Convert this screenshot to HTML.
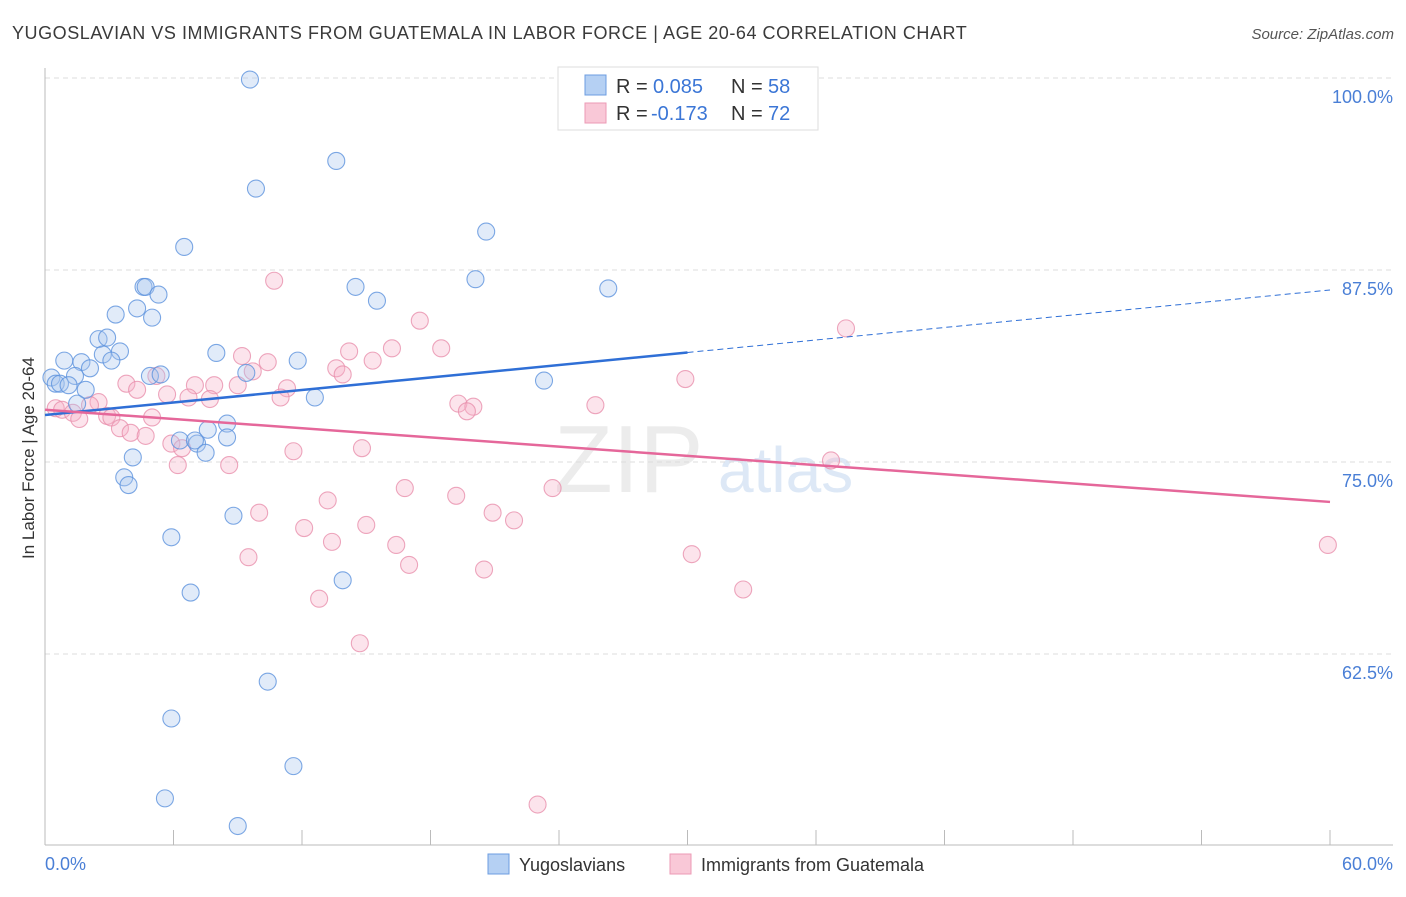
<!DOCTYPE html>
<html><head><meta charset="utf-8"><style>
body{margin:0;background:#fff;font-family:"Liberation Sans",sans-serif;}
svg text{font-family:"Liberation Sans",sans-serif;}
</style></head><body>
<svg id="c" width="1406" height="892" xmlns="http://www.w3.org/2000/svg">
<text x="12" y="39" font-size="18" fill="#3a3a3a" letter-spacing="0.55">YUGOSLAVIAN VS IMMIGRANTS FROM GUATEMALA IN LABOR FORCE | AGE 20-64 CORRELATION CHART</text>
<text x="1394" y="39" font-size="15" fill="#555" font-style="italic" text-anchor="end">Source: ZipAtlas.com</text>
<text x="554" y="492" font-size="96" fill="#ececec" font-family="Liberation Serif">ZIP</text>
<text x="718" y="492" font-size="64" fill="#dde8f6">atlas</text>
<g id="grid"></g><g id="marks"></g>
<text transform="translate(34,458) rotate(-90)" font-size="17" fill="#333" text-anchor="middle">In Labor Force | Age 20-64</text>
<text x="45" y="870" font-size="18" fill="#4a7fd6">0.0%</text>
<text x="1393" y="870" font-size="18" fill="#4a7fd6" text-anchor="end">60.0%</text>
<g>
<rect x="558" y="67" width="260" height="63" fill="#fff" stroke="#ddd"/>
<rect x="585" y="75" width="21" height="20" fill="#b5d0f3" stroke="#6c9de0"/>
<rect x="585" y="103" width="21" height="20" fill="#f9c8d7" stroke="#ec9ab5"/>
<text x="616" y="93" font-size="20" fill="#333">R =</text>
<text x="653" y="93" font-size="20" fill="#3b76d6">0.085</text>
<text x="731" y="93" font-size="20" fill="#333">N =</text>
<text x="768" y="93" font-size="20" fill="#3b76d6">58</text>
<text x="616" y="120" font-size="20" fill="#333">R =</text>
<text x="651" y="120" font-size="20" fill="#3b76d6">-0.173</text>
<text x="731" y="120" font-size="20" fill="#333">N =</text>
<text x="768" y="120" font-size="20" fill="#3b76d6">72</text>
</g>
<g>
<rect x="488" y="854" width="21" height="20" fill="#b5d0f3" stroke="#6c9de0"/>
<text x="519" y="871" font-size="18" fill="#333">Yugoslavians</text>
<rect x="670" y="854" width="21" height="20" fill="#f9c8d7" stroke="#ec9ab5"/>
<text x="701" y="871" font-size="18" fill="#333">Immigrants from Guatemala</text>
</g>
</svg>
<script>
const yTicks=[100,87.5,75,62.5];
const yTickLabels=["100.0%","87.5%","75.0%","62.5%"];
const xTicks=[0,6,12,18,24,30,36,42,48,54,60];
const blueX=[9.57,13.6,9.85,20.6,6.5,20.1,26.3,4.6,4.7,5.3,14.5,15.5,3.3,4.3,5.0,2.5,2.9,3.5,2.7,3.1,0.9,1.7,2.1,8.0,11.8,1.4,0.3,0.5,0.7,1.1,1.9,4.9,5.4,9.4,23.3,12.6,1.5,8.5,7.6,6.3,7.1,7.0,8.5,7.5,4.1,3.7,3.9,8.8,5.9,13.9,6.8,10.4,5.9,11.6,5.6,9.0];
const blueY=[99.9,94.6,92.8,90.0,89.0,86.9,86.3,86.4,86.4,85.9,86.4,85.5,84.6,85.0,84.4,83.0,83.1,82.2,82.0,81.6,81.6,81.5,81.1,82.1,81.6,80.6,80.5,80.1,80.1,80.0,79.7,80.6,80.7,80.8,80.3,79.2,78.8,77.5,77.1,76.4,76.2,76.4,76.6,75.6,75.3,74.0,73.5,71.5,70.1,67.3,66.5,60.7,58.3,55.2,53.1,51.3];
const pinkX=[33.6,10.7,17.5,37.4,18.5,16.2,14.2,9.2,10.4,15.3,13.6,13.9,9.7,5.2,3.8,29.9,4.3,7.0,7.9,9.0,11.3,5.7,6.7,7.7,11.0,2.5,19.3,20.0,25.7,19.7,0.5,0.8,1.3,2.1,2.9,1.6,3.1,5.0,3.5,4.0,4.7,5.9,6.4,14.8,11.6,6.2,8.6,36.7,16.8,23.7,19.2,13.2,10.0,20.9,21.9,15.0,12.1,13.4,16.4,59.9,9.5,30.2,17.0,20.5,32.6,12.8,14.7,23.0];
const pinkY=[99.9,86.8,84.2,83.7,82.4,82.4,82.2,81.9,81.5,81.6,81.1,80.7,80.9,80.6,80.1,80.4,79.7,80.0,80.0,80.0,79.8,79.4,79.2,79.1,79.2,78.9,78.8,78.6,78.7,78.3,78.5,78.4,78.2,78.7,78.0,77.8,77.9,77.9,77.2,76.9,76.7,76.2,75.9,75.9,75.7,74.8,74.8,75.1,73.3,73.3,72.8,72.5,71.7,71.7,71.2,70.9,70.7,69.8,69.6,69.6,68.8,69.0,68.3,68.0,66.7,66.1,63.2,52.7];
const blueTrend=[78.06,86.2];
const pinkTrend=[78.4,72.4];
const NS="http://www.w3.org/2000/svg";
const X=v=>45+v/60*1285, Y=v=>78+(100-v)/12.5*192;
const grid=document.getElementById('grid'), marks=document.getElementById('marks');
function mk(t,a,p){const e=document.createElementNS(NS,t);for(const k in a)e.setAttribute(k,a[k]);p.appendChild(e);return e;}
yTicks.forEach((t,i)=>{
 const l=mk('line',{x1:45,x2:1393,y1:Y(t),y2:Y(t),stroke:'#ddd','stroke-dasharray':'5,4'},grid);
 
 
 const tx=mk('text',{x:1393,y:Y(t)+25,'font-size':18,fill:'#4a7fd6','text-anchor':'end'},grid);
 tx.textContent=yTickLabels[i];
 
 
});
const ax=mk('line',{x1:45,x2:45,y1:68,y2:845,stroke:'#bbb'},grid);


const bx=mk('line',{x1:45,x2:1393,y1:845,y2:845,stroke:'#bbb'},grid);


xTicks.forEach(t=>{const l=mk('line',{x1:X(t),x2:X(t),y1:830,y2:845,stroke:'#bbb'},grid);
 
 });
function pts(xs,ys,fill,stroke,name){xs.forEach((x,i)=>{const c=mk('circle',{cx:X(x),cy:Y(ys[i]),r:8.5,fill:fill,'fill-opacity':0.35,stroke:stroke,'stroke-opacity':0.8,'stroke-width':1.1},marks);
 
 });}
pts(pinkX,pinkY,'#f5b3c8','#e890ad','guatemala-point');
pts(blueX,blueY,'#a9c7ef','#5d92dd','yugoslavian-point');
const bm=30, byMid=blueTrend[0]+(blueTrend[1]-blueTrend[0])*bm/60;
let l1=mk('line',{x1:X(0),y1:Y(blueTrend[0]),x2:X(bm),y2:Y(byMid),stroke:'#2f6fd6','stroke-width':2.5},marks);


let l2=mk('line',{x1:X(bm),y1:Y(byMid),x2:X(60),y2:Y(blueTrend[1]),stroke:'#2f6fd6','stroke-width':1,'stroke-dasharray':'6,4'},marks);


let l3=mk('line',{x1:X(0),y1:Y(pinkTrend[0]),x2:X(60),y2:Y(pinkTrend[1]),stroke:'#e5679a','stroke-width':2.5},marks);


</script>
</body></html>
